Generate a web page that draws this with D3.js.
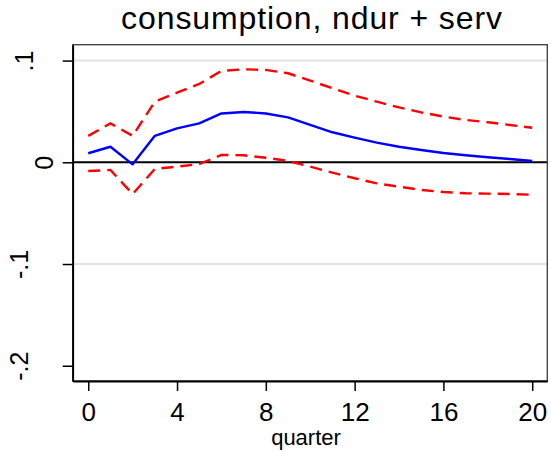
<!DOCTYPE html>
<html>
<head>
<meta charset="utf-8">
<script src="https://cdn.jsdelivr.net/npm/d3@7"></script>
<style>
  html, body { margin: 0; padding: 0; background: #fff; }
  svg { display: block; font-family: "Liberation Sans", Arial, Helvetica, sans-serif; }
</style>
</head>
<body>
<svg id="chart" width="551" height="451"></svg>
<script>
// Impulse response: point estimate and confidence band, quarters 0..20
const quarters = d3.range(0, 21);
const response = [0.0089, 0.0153, -0.0020, 0.0260, 0.0334, 0.0383, 0.0480, 0.0495, 0.0480, 0.0442,
                  0.0367, 0.0295, 0.0242, 0.0193, 0.0153, 0.0121, 0.0091, 0.0069, 0.0049, 0.0032, 0.0013];
const upperBand = [0.0260, 0.0383, 0.0260, 0.0596, 0.0684, 0.0770, 0.0898, 0.0914, 0.0908, 0.0875,
                   0.0803, 0.0728, 0.0655, 0.0596, 0.0540, 0.0491, 0.0449, 0.0416, 0.0393, 0.0367, 0.0340];
const lowerBand = [-0.0086, -0.0076, -0.0312, -0.0066, -0.0043, -0.0017, 0.0072, 0.0069, 0.0045, 0.0013,
                   -0.0043, -0.0102, -0.0157, -0.0207, -0.0240, -0.0272, -0.0292, -0.0305, -0.0308, -0.0312, -0.0319];
const xTicks = [0, 4, 8, 12, 16, 20];
const yTicks = [0.1, 0, -0.1, -0.2];
const yTickLabels = [".1", "0", "-.1", "-.2"];
const gridValues = [0.1, -0.1];
const titleText = "consumption, ndur + serv";
const xTitle = "quarter";

const svg = d3.select("#chart");
const plot = { left: 72.7, right: 547.3, top: 44.7, bottom: 381 };

const x = d3.scaleLinear().domain([-0.7, 20.68]).range([plot.left, plot.right]);
const y = d3.scaleLinear().domain([-0.215, 0.1156]).range([plot.bottom, plot.top]);

// gridlines
svg.append("g").selectAll("line").data(gridValues).join("line")
  .attr("x1", plot.left).attr("x2", plot.right)
  .attr("y1", d => y(d)).attr("y2", d => y(d))
  .attr("stroke", "#e3e3e3").attr("stroke-width", 2);

// zero line
svg.append("line")
  .attr("x1", plot.left).attr("x2", plot.right)
  .attr("y1", y(0)).attr("y2", y(0))
  .attr("stroke", "#000").attr("stroke-width", 2);

// plot frame
svg.append("rect")
  .attr("x", plot.left).attr("y", plot.top)
  .attr("width", plot.right - plot.left).attr("height", plot.bottom - plot.top)
  .attr("fill", "none").attr("stroke", "#3a3a3a").attr("stroke-width", 1.3);

const line = vals => d3.line().x((d, i) => x(quarters[i])).y(d => y(d))(vals);

// confidence band
[upperBand, lowerBand].forEach(band => {
  svg.append("path").attr("d", line(band))
    .attr("fill", "none").attr("stroke", "#ff0000").attr("stroke-width", 2.4)
    .attr("stroke-dasharray", "12,7");
});

// point estimate
svg.append("path").attr("d", line(response))
  .attr("fill", "none").attr("stroke", "#0000ff").attr("stroke-width", 2.4)
  .attr("stroke-linejoin", "round");

// x axis
const xAxis = d3.axisBottom(x).tickValues(xTicks).tickSize(10).tickSizeOuter(0).tickPadding(12);
const gx = svg.append("g").attr("transform", `translate(0,${plot.bottom})`).call(xAxis);
gx.select(".domain").attr("stroke", "#000").attr("stroke-width", 1.8);
gx.selectAll(".tick line").attr("stroke", "#000").attr("stroke-width", 1.5);
gx.selectAll(".tick text").attr("font-size", 26).attr("fill", "#000")
  .attr("font-family", "Liberation Sans, Arial, sans-serif");

// y axis
const yAxis = d3.axisLeft(y).tickValues(yTicks).tickSize(10).tickSizeOuter(0)
  .tickFormat((d, i) => yTickLabels[i]);
const gy = svg.append("g").attr("transform", `translate(${plot.left},0)`).call(yAxis);
gy.select(".domain").attr("stroke", "#000").attr("stroke-width", 1.8);
gy.selectAll(".tick line").attr("stroke", "#000").attr("stroke-width", 1.5);
// rotated labels; baseline offset from the axis for each label
const labelGap = { ".1": 40, "0": 20, "-.1": 45, "-.2": 45 };
gy.selectAll(".tick text")
  .attr("font-size", 25).attr("fill", "#000")
  .attr("font-family", "Liberation Sans, Arial, sans-serif")
  .attr("x", null).attr("dy", null)
  .attr("text-anchor", "middle")
  .attr("transform", d => `translate(${-labelGap[yTickLabels[yTicks.indexOf(d)]]},0) rotate(-90)`);

// titles
svg.append("text").attr("x", (plot.left + plot.right) / 2 + 2).attr("y", 29)
  .attr("text-anchor", "middle").attr("font-size", 32).attr("letter-spacing", 0.9)
  .attr("fill", "#000").text(titleText);

svg.append("text").attr("x", (plot.left + plot.right) / 2 - 4).attr("y", 445)
  .attr("text-anchor", "middle").attr("font-size", 22)
  .attr("fill", "#000").text(xTitle);
</script>
</body>
</html>
